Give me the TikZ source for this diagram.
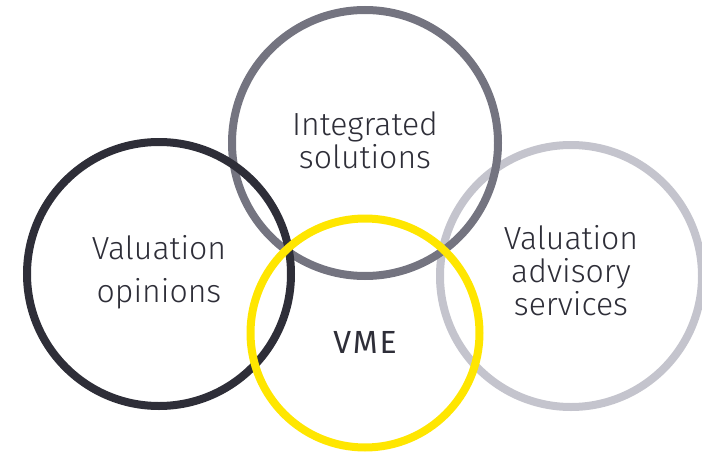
\documentclass[tikz,border=0pt]{standalone}
\usepackage{fontspec}
\setmainfont{Fira Sans Light}[BoldFont={Fira Sans}]
\usetikzlibrary{positioning}
\definecolor{eydark}{HTML}{2E2E38}
\definecolor{eygray}{HTML}{747480}
\definecolor{eylight}{HTML}{C4C4CD}
\definecolor{eyyellow}{HTML}{FFE600}

\begin{document}
\begin{tikzpicture}[x=1pt,y=-1pt,
  ring/.style={circle,line width=8pt,inner sep=0pt,minimum size=#1},
  lbl/.style={text=eydark,font=\fontsize{32}{33}\selectfont,align=center}]

  \useasboundingbox (0,0) rectangle (702,455);

  % rings, back to front
  \node [ring=262pt,draw=eylight] (advisory) at (571,276) {};
  \node [ring=266pt,draw=eygray] (integrated) at (365,143) {};
  \node [ring=264pt,draw=eydark] (opinions) at (159,274) {};
  \node [ring=229pt,draw=eyyellow] (vme) at (365,333) {};

  % labels
  \node [lbl,yshift=3pt] (integratedtext) at (integrated) {Integrated\\solutions};
  \node [lbl,yshift=2pt] (opinionstext) at (opinions) {Valuation\\[10pt]opinions};
  \node [lbl,yshift=5pt] (advisorytext) at (advisory) {Valuation\\advisory\\services};
  \node [lbl,yshift=-9pt,font=\fontsize{32}{33}\bfseries\addfontfeature{LetterSpace=6}] (vmetext) at (vme) {VME};

\end{tikzpicture}
\end{document}
